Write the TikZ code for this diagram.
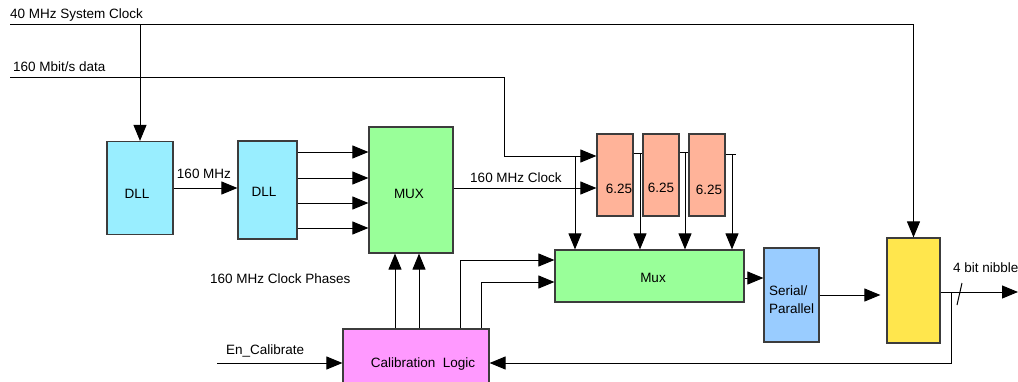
\documentclass[tikz,border=0pt]{standalone}
\usepackage{fontspec}
\setmainfont{Liberation Sans}
\usetikzlibrary{arrows.meta,calc}
\definecolor{dllc}{RGB}{153,238,255}
\definecolor{muxc}{RGB}{153,255,153}
\definecolor{regc}{RGB}{255,179,153}
\definecolor{spc}{RGB}{153,204,255}
\definecolor{yelc}{RGB}{255,230,77}
\definecolor{calc}{RGB}{255,153,255}
\definecolor{edge}{RGB}{60,60,60}
\begin{document}
\begin{tikzpicture}[x=1pt,y=-1pt,
  every node/.style={font=\fontsize{13.5}{16}\selectfont},
  blk/.style={draw=edge,line width=1.2pt,inner sep=0pt,minimum width=#1},
  lbl/.style={inner sep=0pt},
  wire/.style={line width=1pt,black},
  arr/.style={wire,-{Triangle[length=16pt,width=13pt]}}]
\useasboundingbox (0,0) rectangle (1018,381);
\clip (0,0) rectangle (1018,381);
% boxes
\node[blk=66pt,minimum height=93pt,fill=dllc] (dll1) at (140,188) {};
\node[lbl] at (137,194) {DLL};
\node[blk=59pt,minimum height=98pt,fill=dllc] (dll2) at (267.5,190) {};
\node[lbl] at (264,192) {DLL};
\node[blk=84pt,minimum height=126pt,fill=muxc] (mux) at (411,190) {};
\node[lbl] at (409,194) {MUX};
\node[blk=36pt,minimum height=82pt,fill=regc] (r1) at (615,175) {};
\node[blk=36pt,minimum height=82pt,fill=regc] (r2) at (661,175) {};
\node[blk=36pt,minimum height=82pt,fill=regc] (r3) at (707,175) {};
\node[lbl] at (619,189) {6.25};
\node[lbl] at (661,188) {6.25};
\node[lbl] at (709,190) {6.25};
\node[blk=189pt,minimum height=52pt,fill=muxc] (mux2) at (649.5,276) {};
\node[lbl] at (653,278) {Mux};
\node[blk=55pt,minimum height=94pt,fill=spc] (sp) at (791.5,295) {};
\node[lbl,anchor=west,align=left] at (769,300) {Serial/\\[2pt]Parallel};
\node[blk=53pt,minimum height=105pt,fill=yelc] (yel) at (913.5,290.5) {};
\node[blk=146pt,minimum height=68pt,fill=calc] (cal) at (416,363) {};
\node[lbl] at (423,364) {Calibration\ \ Logic};
% text labels
\node[lbl,anchor=west] at (10,15) {40 MHz System Clock};
\node[lbl,anchor=west] at (13,67) {160 Mbit/s data};
\node[lbl] at (204,174) {160 MHz};
\node[lbl] at (516,178) {160 MHz Clock};
\node[lbl,anchor=west] at (210,279) {160 MHz Clock Phases};
\node[lbl,anchor=west] at (226,351) {En\_Calibrate};
\node[lbl,anchor=west] at (953,268) {4 bit nibble};
% coordinates
\coordinate (clk) at (10,24);
\coordinate (dat) at (10,77);
\coordinate (d1) at (504,77);
\coordinate (d2) at (504,156);
\coordinate (j0) at (575,156);
\coordinate (j1) at (640,153);
\coordinate (j2) at (685,152);
\coordinate (j3) at (732,154);
\coordinate (j3e) at (736,154);
\coordinate (c1) at (395,300);
\coordinate (c2) at (419,300);
\coordinate (c3) at (460,300);
\coordinate (c4) at (481,300);
\coordinate (fb) at (951,292);
\coordinate (out) at (1018,292);
\coordinate (en) at (217,363);
% connectors
\draw[arr] (clk) -| (yel.north);
\draw[arr] (dll1.north |- clk) -- (dll1.north);
\draw[wire] (dat) -- (d1) -- (d2);
\draw[arr] (d2) -- (d2 -| r1.west);
\draw[arr] (dll1.east) -- (dll1.east -| dll2.west);
\foreach \d in {-38,-12,13,38}
  \draw[arr] ($(dll2.east)+(0,\d)$) -- ($(mux.west)+(0,\d)$);
\draw[arr] ($(mux.east)+(0,-2)$) -- ($(r1.west)+(0,13)$);
\draw[wire] (r1.east |- j1) -- (r2.west |- j1);
\draw[wire] (r2.east |- j2) -- (r3.west |- j2);
\draw[wire] (r3.east |- j3) -- (j3e);
\draw[arr] (j0) -- (j0 |- mux2.north);
\draw[arr] (j1) -- (j1 |- mux2.north);
\draw[arr] (j2) -- (j2 |- mux2.north);
\draw[arr] (j3) -- (j3 |- mux2.north);
\draw[arr] (c1 |- cal.north) -- (c1 |- mux.south);
\draw[arr] (c2 |- cal.north) -- (c2 |- mux.south);
\draw[arr] (c3 |- cal.north) |- ($(mux2.west)+(0,-16)$);
\draw[arr] (c4 |- cal.north) |- ($(mux2.west)+(0,6)$);
\draw[arr] ($(mux2.east)+(0,2)$) -- ($(sp.west)+(0,-17)$);
\draw[arr,shorten >=6pt] (sp.east) -- (sp.east -| yel.west);
\draw[arr] ($(yel.east)+(0,1.5)$) -- (out);
\draw[wire] (957,305) -- (962,283);
\draw[arr] (fb) |- (cal.east);
\draw[arr] (en) -- (cal.west);
\end{tikzpicture}
\end{document}
